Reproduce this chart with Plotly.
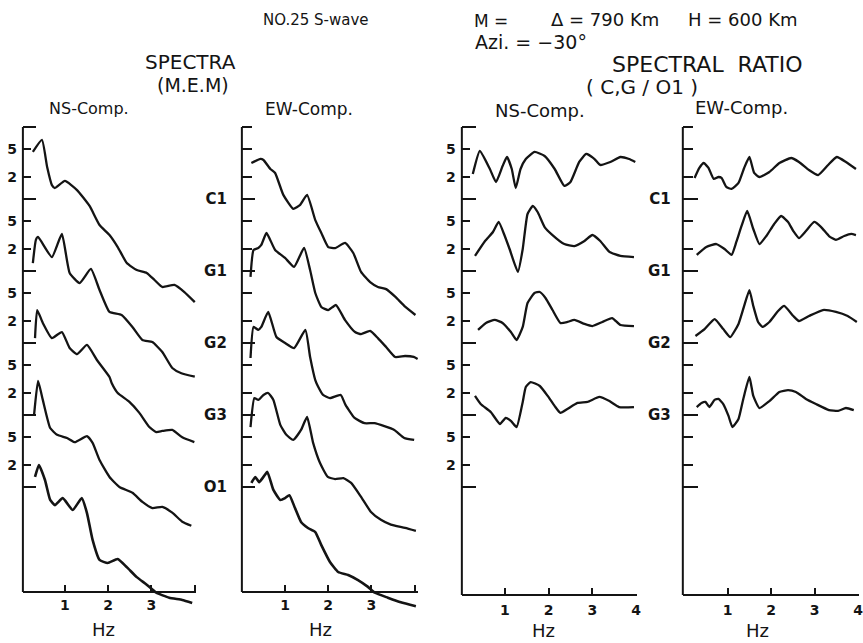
import plotly.graph_objects as go

W, H = 863, 643
INK = "#141414"
FONT = "DejaVu Sans"

STATIONS = ["C1", "G1", "G2", "G3", "O1"]
RATIO_STATIONS = ["C1", "G1", "G2", "G3"]

# ---------------- SPECTRA, NS component (frequency Hz, relative amplitude) -----
ns_c1_f = [0.26, 0.47, 0.59, 0.70, 0.77, 1.00, 1.28, 1.57, 1.80, 2.03, 2.22, 2.43, 2.66, 2.89, 3.07, 3.25, 3.53, 3.76, 4.00]
ns_c1_a = [4.5, 6.6, 2.78, 1.56, 1.42, 1.78, 1.33, 0.80, 0.435, 0.316, 0.215, 0.129, 0.103, 0.094, 0.075, 0.060, 0.064, 0.051, 0.037]
ns_g1_f = [0.26, 0.33, 0.38, 0.70, 0.93, 1.11, 1.34, 1.60, 1.80, 2.03, 2.31, 2.56, 2.79, 3.02, 3.25, 3.48, 3.69, 4.00]
ns_g1_a = [1.29, 2.70, 2.97, 1.56, 3.27, 0.94, 0.68, 1.07, 0.545, 0.27, 0.245, 0.167, 0.110, 0.103, 0.075, 0.045, 0.038, 0.034]
ns_g2_f = [0.31, 0.36, 0.49, 0.70, 0.93, 1.11, 1.28, 1.51, 1.74, 2.03, 2.08, 2.22, 2.49, 2.72, 2.95, 3.11, 3.25, 3.48, 3.71, 3.99]
ns_g2_a = [1.17, 2.87, 1.90, 1.17, 1.42, 0.85, 0.70, 0.94, 0.58, 0.337, 0.278, 0.202, 0.152, 0.107, 0.068, 0.058, 0.060, 0.062, 0.049, 0.042]
ns_g3_f = [0.29, 0.38, 0.49, 0.66, 0.82, 1.05, 1.23, 1.51, 1.64, 1.80, 2.03, 2.26, 2.56, 2.79, 3.02, 3.25, 3.48, 3.71, 3.92]
ns_g3_a = [1.03, 2.97, 1.62, 0.66, 0.53, 0.48, 0.42, 0.51, 0.41, 0.237, 0.138, 0.100, 0.083, 0.062, 0.051, 0.053, 0.044, 0.033, 0.029]
ns_o1_f = [0.31, 0.40, 0.54, 0.66, 0.77, 0.95, 1.18, 1.39, 1.51, 1.64, 1.80, 1.99, 2.22, 2.43, 2.66, 2.89, 3.11, 3.41, 3.71, 3.94]
ns_o1_a = [1.38, 2.02, 1.25, 0.66, 0.56, 0.70, 0.48, 0.70, 0.435, 0.184, 0.097, 0.088, 0.100, 0.077, 0.056, 0.044, 0.034, 0.029, 0.027, 0.0245]

# ---------------- SPECTRA, EW component ---------------------------------------
ew_c1_f = [0.22, 0.43, 0.50, 0.66, 0.77, 0.96, 1.19, 1.35, 1.51, 1.70, 1.84, 2.00, 2.16, 2.39, 2.58, 2.76, 2.97, 3.15, 3.34, 3.55, 3.78, 4.02]
ew_c1_a = [3.16, 3.6, 3.48, 2.61, 2.30, 1.14, 0.73, 0.83, 1.14, 0.51, 0.337, 0.215, 0.208, 0.245, 0.178, 0.097, 0.070, 0.060, 0.056, 0.044, 0.032, 0.0245]
ew_g1_f = [0.20, 0.27, 0.38, 0.45, 0.57, 0.77, 1.00, 1.21, 1.44, 1.58, 1.70, 1.84, 2.00, 2.18, 2.39, 2.62, 2.76, 2.97, 3.15, 3.34, 3.55, 3.78, 3.98, 4.07]
ew_g1_a = [0.83, 1.96, 2.09, 2.30, 3.37, 1.96, 1.52, 1.14, 2.09, 1.03, 0.495, 0.316, 0.287, 0.337, 0.208, 0.142, 0.133, 0.147, 0.117, 0.088, 0.064, 0.066, 0.064, 0.060]
ew_g2_f = [0.20, 0.27, 0.38, 0.45, 0.61, 0.80, 1.00, 1.21, 1.47, 1.58, 1.70, 1.77, 1.88, 2.04, 2.29, 2.40, 2.61, 2.84, 3.07, 3.30, 3.53, 3.76, 3.99]
ew_g2_a = [0.62, 1.67, 1.52, 1.67, 2.70, 1.21, 1.00, 0.85, 1.52, 0.64, 0.306, 0.245, 0.19, 0.172, 0.19, 0.138, 0.091, 0.077, 0.077, 0.070, 0.062, 0.048, 0.045]
ew_g3_f = [0.20, 0.29, 0.38, 0.50, 0.61, 0.73, 0.89, 1.03, 1.19, 1.37, 1.51, 1.65, 1.81, 1.99, 2.16, 2.35, 2.53, 2.76, 2.99, 3.22, 3.45, 3.78, 4.03]
ew_g3_a = [0.68, 1.72, 1.62, 1.90, 2.02, 1.62, 0.73, 0.53, 0.45, 0.62, 0.94, 0.41, 0.215, 0.138, 0.129, 0.133, 0.114, 0.073, 0.045, 0.035, 0.030, 0.027, 0.0245]
ew_o1_f = [0.22, 0.31, 0.40, 0.50, 0.59, 0.73, 0.89, 1.00, 1.10, 1.23, 1.37, 1.53, 1.70, 1.84, 2.04, 2.23, 2.46, 2.69, 2.92, 3.08, 3.38, 3.68, 4.03]
ew_o1_a = [1.14, 1.38, 1.17, 1.38, 1.62, 0.91, 0.66, 0.70, 0.77, 0.51, 0.327, 0.27, 0.237, 0.156, 0.091, 0.066, 0.060, 0.051, 0.041, 0.034, 0.029, 0.025, 0.022]

# ---------------- SPECTRAL RATIO (C,G / O1), NS component ---------------------
rns_c1_f = [0.27, 0.43, 0.66, 0.80, 0.95, 1.05, 1.16, 1.25, 1.36, 1.48, 1.68, 1.91, 2.14, 2.36, 2.50, 2.70, 2.86, 3.05, 3.18, 3.41, 3.64, 3.84, 3.98]
rns_c1_r = [2.22, 4.64, 2.61, 1.72, 2.87, 3.83, 2.61, 1.42, 2.61, 3.59, 4.50, 3.96, 2.61, 1.52, 1.72, 3.27, 4.22, 3.59, 2.97, 3.27, 3.83, 3.59, 3.27]
rns_g1_f = [0.32, 0.55, 0.73, 0.86, 1.00, 1.11, 1.30, 1.41, 1.52, 1.64, 1.75, 1.91, 2.09, 2.36, 2.59, 2.82, 3.00, 3.18, 3.39, 3.64, 3.95]
rns_g1_r = [1.62, 2.61, 3.48, 4.80, 3.06, 2.02, 0.97, 2.02, 6.19, 8.0, 6.6, 4.08, 3.16, 2.37, 2.22, 2.61, 3.16, 2.61, 1.84, 1.62, 1.56]
rns_g2_f = [0.39, 0.57, 0.77, 0.95, 1.14, 1.27, 1.41, 1.52, 1.68, 1.80, 1.93, 2.09, 2.27, 2.43, 2.59, 2.82, 3.00, 3.23, 3.45, 3.64, 3.95]
rns_g2_r = [1.52, 1.90, 2.09, 1.90, 1.42, 1.10, 1.67, 3.59, 4.95, 5.11, 4.22, 2.87, 1.90, 1.96, 2.09, 1.84, 1.72, 1.96, 2.22, 1.78, 1.72]
rns_g3_f = [0.32, 0.45, 0.68, 0.89, 1.02, 1.14, 1.27, 1.41, 1.48, 1.59, 1.80, 1.98, 2.14, 2.27, 2.43, 2.66, 2.89, 3.16, 3.39, 3.61, 3.95]
rns_g3_r = [1.84, 1.42, 1.10, 0.75, 0.91, 0.83, 0.68, 1.52, 2.45, 2.87, 2.53, 1.84, 1.33, 1.07, 1.21, 1.47, 1.52, 1.78, 1.56, 1.29, 1.29]

# ---------------- SPECTRAL RATIO (C,G / O1), EW component ---------------------
rew_c1_f = [0.24, 0.35, 0.45, 0.56, 0.68, 0.79, 0.86, 0.97, 1.09, 1.25, 1.38, 1.50, 1.61, 1.73, 1.96, 2.19, 2.46, 2.64, 2.87, 3.08, 3.31, 3.51, 3.72, 3.95]
rew_c1_r = [1.96, 2.70, 3.16, 2.70, 1.90, 2.02, 1.96, 1.47, 1.38, 1.67, 2.70, 3.83, 2.30, 2.02, 2.37, 3.16, 3.71, 3.27, 2.53, 2.15, 2.97, 3.83, 3.27, 2.61]
rew_g1_f = [0.29, 0.51, 0.74, 0.93, 1.09, 1.20, 1.32, 1.45, 1.59, 1.73, 1.89, 2.07, 2.23, 2.39, 2.51, 2.64, 2.80, 2.99, 3.15, 3.33, 3.49, 3.68, 3.84, 3.95]
rew_g1_r = [1.67, 2.15, 2.37, 2.02, 1.67, 2.53, 4.22, 6.81, 3.83, 2.37, 3.06, 4.50, 5.81, 4.80, 3.59, 2.87, 3.59, 4.80, 4.08, 3.06, 2.70, 3.06, 3.27, 3.16]
rew_g2_f = [0.26, 0.47, 0.70, 0.90, 1.06, 1.25, 1.38, 1.50, 1.59, 1.70, 1.80, 1.96, 2.16, 2.30, 2.51, 2.64, 2.87, 3.19, 3.49, 3.76, 3.97]
rew_g2_r = [1.25, 1.56, 2.15, 1.56, 1.21, 1.84, 3.27, 5.44, 3.27, 1.96, 1.67, 1.96, 2.78, 3.27, 2.37, 2.02, 2.37, 2.87, 2.70, 2.37, 1.96]
rew_g3_f = [0.29, 0.40, 0.49, 0.58, 0.70, 0.79, 0.90, 1.02, 1.11, 1.25, 1.36, 1.50, 1.59, 1.73, 1.96, 2.19, 2.39, 2.57, 2.80, 3.03, 3.33, 3.54, 3.72, 3.90]
rew_g3_r = [1.29, 1.47, 1.52, 1.29, 1.62, 1.67, 1.42, 0.97, 0.68, 0.88, 1.67, 3.37, 1.84, 1.25, 1.56, 2.09, 2.22, 2.09, 1.67, 1.42, 1.17, 1.14, 1.25, 1.17]

# ---------------- axis ticks -------------------------------------------------
x_tickvals = [1, 2, 3, 4]
x_text_spectra = ["1", "2", "3", ""]
x_text_ratio = ["1", "2", "3", "4"]
decade_vals = [10, 1, 0.1, 0.01, 0.001, 0.0001]
sub_vals = [5, 2, 0.5, 0.2, 0.05, 0.02, 0.005, 0.002, 0.0005, 0.0002]
sub_text = ["5", "2"] * 5

panels = [
    dict(curves=[(ns_c1_f, ns_c1_a), (ns_g1_f, ns_g1_a), (ns_g2_f, ns_g2_a), (ns_g3_f, ns_g3_a), (ns_o1_f, ns_o1_a)],
         dom=(23, 197), rng=(0.03, 4.03), xline=592, labels="num", xt=x_text_spectra, long=13, short=8, xstand=0, ystand=5),
    dict(curves=[(ew_c1_f, ew_c1_a), (ew_g1_f, ew_g1_a), (ew_g2_f, ew_g2_a), (ew_g3_f, ew_g3_a), (ew_o1_f, ew_o1_a)],
         dom=(243, 420), rng=(0.0, 4.08), xline=592, labels="sta", xt=x_text_spectra, long=13, short=10, xstand=0, ystand=14),
    dict(curves=[(rns_c1_f, rns_c1_r), (rns_g1_f, rns_g1_r), (rns_g2_f, rns_g2_r), (rns_g3_f, rns_g3_r)],
         dom=(464, 640), rng=(0.02, 4.02), xline=595, labels="num", xt=x_text_ratio, long=14, short=8, xstand=2, ystand=5),
    dict(curves=[(rew_c1_f, rew_c1_r), (rew_g1_f, rew_g1_r), (rew_g2_f, rew_g2_r), (rew_g3_f, rew_g3_r)],
         dom=(686, 863), rng=(-0.03, 4.02), xline=595, labels="sta4", xt=x_text_ratio, long=15, short=10, xstand=2, ystand=11),
]

TOP_PX, DOM_TOP_PX, DOM_BOT_PX, DEC_PX = 127, 125, 612, 72.0
y_range = [1 - (DOM_BOT_PX - TOP_PX) / DEC_PX, 1 + (TOP_PX - DOM_TOP_PX) / DEC_PX]


def px_x(px):
    return px / W


def px_y(py):
    return 1 - py / H


fig = go.Figure()
layout = dict(width=W, height=H, margin=dict(l=0, r=0, t=0, b=0),
              paper_bgcolor="white", plot_bgcolor="rgba(0,0,0,0)", showlegend=False,
              font=dict(family=FONT, color=INK))
shapes = []

for i, p in enumerate(panels):
    n = "" if i == 0 else str(i + 1)
    for k, (f, a) in enumerate(p["curves"]):
        fig.add_trace(go.Scatter(
            x=f, y=[v * 10 ** (-k) for v in a], xaxis="x" + n, yaxis="y" + n,
            mode="lines", hoverinfo="skip",
            line=dict(color=INK, width=2.3 if k < 4 else 2.6, shape="spline", smoothing=0.45)))

    layout["xaxis" + n] = dict(
        domain=[px_x(p["dom"][0]), px_x(p["dom"][1])], range=list(p["rng"]),
        anchor="free", position=px_y(p["xline"]),
        showline=True, linewidth=2, linecolor=INK, showgrid=False, zeroline=False,
        ticks="inside", ticklen=6, tickwidth=2, tickcolor=INK,
        tickmode="array", tickvals=x_tickvals, ticktext=p["xt"],
        ticklabelstandoff=p["xstand"], ticklabeloverflow="allow",
        tickfont=dict(family=FONT, size=14, color=INK, weight="bold"), fixedrange=True)

    if p["labels"] == "num":
        major_v, major_t, major_len = sub_vals, sub_text, p["short"]
        minor_v, minor_len = decade_vals, p["long"]
    else:
        major_v = decade_vals[1:]
        major_t = STATIONS if p["labels"] == "sta" else RATIO_STATIONS + [""]
        major_len = p["long"]
        minor_v, minor_len = sub_vals + [10], p["short"]

    layout["yaxis" + n] = dict(
        domain=[px_y(DOM_BOT_PX), px_y(DOM_TOP_PX)], type="log", range=y_range,
        anchor="x" + n, showline=False, showgrid=False, zeroline=False,
        ticks="inside", ticklen=major_len, tickwidth=2, tickcolor=INK,
        tickmode="array", tickvals=major_v, ticktext=major_t,
        ticklabelstandoff=p["ystand"],
        tickfont=dict(family=FONT, size=14 if p["labels"] == "num" else 15, color=INK, weight="bold"),
        minor=dict(tickmode="array", tickvals=minor_v, ticks="inside", ticklen=minor_len,
                   tickwidth=2, tickcolor=INK, showgrid=False),
        fixedrange=True)

    # vertical axis line, from the frequency axis up to the top decade
    shapes.append(dict(type="line", xref="paper", yref="paper",
                       x0=px_x(p["dom"][0]), x1=px_x(p["dom"][0]),
                       y0=px_y(p["xline"]), y1=px_y(TOP_PX),
                       line=dict(color=INK, width=2)))

layout["shapes"] = shapes


def txt(s, x, y, size, **kw):
    return dict(text=s, x=px_x(x), y=px_y(y), xref="paper", yref="paper", showarrow=False,
                xanchor="center", yanchor="middle",
                font=dict(family=FONT, size=size, color=INK), **kw)


layout["annotations"] = [
    txt("NO.25 S-wave", 317, 20, 15),
    txt("M =", 493, 21, 17),
    txt("Δ = 790 Km", 608, 20, 18),
    txt("H = 600 Km", 746, 20, 18),
    txt("Azi. = −30°", 533, 42, 19),
    txt("SPECTRA", 191, 62, 20),
    txt("(M.E.M)", 194, 85, 19),
    txt("SPECTRAL  RATIO", 711, 65, 22),
    txt("( C,G / O1 )", 645, 87, 20),
    txt("NS-Comp.", 89, 109, 16),
    txt("EW-Comp.", 310, 109, 17),
    txt("NS-Comp.", 543, 110, 18),
    txt("EW-Comp.", 745, 108, 18),
    txt("Hz", 104, 629, 18),
    txt("Hz", 322, 629, 18),
    txt("Hz", 546, 630, 18),
    txt("Hz", 761, 630, 18),
]

fig.update_layout(**layout)
fig.write_html("out.html", config={"displayModeBar": False},
               post_script="document.body.style.margin='0px';document.body.style.overflow='hidden';")
